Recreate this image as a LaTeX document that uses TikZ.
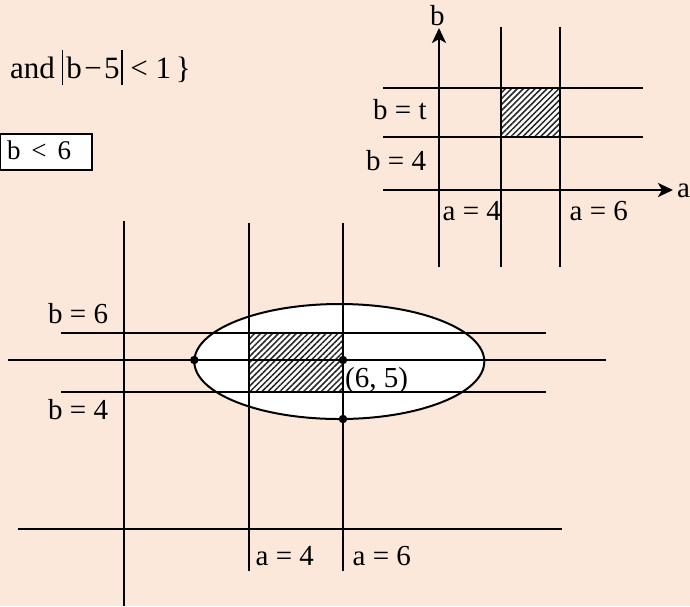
\documentclass[tikz,border=0pt]{standalone}
\usepackage{fontspec}
\setmainfont{Liberation Serif}
\usetikzlibrary{patterns.meta,arrows.meta,shapes.geometric}
\definecolor{bgpeach}{RGB}{252,232,218}
\newcommand{\vbar}{\rule[-0.22em]{1.4pt}{1.12em}}
\tikzset{
  ln/.style={line width=2pt, black},
  ax/.style={line width=2.6pt, black, -{Stealth[length=15pt,width=14pt,inset=4pt]}},
  lbl/.style={anchor=base west, inner sep=0pt, font=\fontsize{29}{31}\selectfont},
  big/.style={anchor=base west, inner sep=0pt, font=\fontsize{31}{34}\selectfont},
  hatch/.style={fill=white, postaction={pattern={Lines[angle=45,distance=4.2pt,line width=1.5pt]}, pattern color=black!85}},
  dot/.style={circle, fill=black, inner sep=0pt, minimum size=8.5pt}
}
\begin{document}
\begin{tikzpicture}[x=1pt,y=-1pt]
\fill[bgpeach] (0,0) rectangle (690,606);
\useasboundingbox (0,0) rectangle (690,606);

% top-left text
\node[big] (cond) at (10,78) {and\hspace{0.22em}\vbar\hspace{0.1em}b\hspace{0.08em}−\hspace{0.08em}5\hspace{0.05em}\vbar\hspace{0.25em}<\hspace{0.25em}1\hspace{0.15em}\}};
\node[draw, line width=2pt, fill=white, minimum width=92pt, minimum height=36pt, inner sep=0pt] (box) at (46,152) {};
\node[lbl, font=\fontsize{27}{30}\selectfont] (bl6) at (7,159) {b\hspace{0.4em}<\hspace{0.4em}6};

% top-right small diagram
\coordinate (bt) at (439,28);   \coordinate (bb) at (439,267);
\coordinate (al) at (383,190);  \coordinate (ar) at (673,190);
\coordinate (v1t) at (501,27); \coordinate (v1b) at (501,267);
\coordinate (v2t) at (560,27);   \coordinate (v2b) at (560,267);
\coordinate (h1l) at (383,88); \coordinate (h1r) at (643,88);
\coordinate (h2l) at (383,137); \coordinate (h2r) at (643,137);
\node[draw=none, hatch, minimum width=59pt, minimum height=49pt, inner sep=0pt] (sq) at (530.5,112.5) {};
\draw[ln] (v1t) -- (v1b);
\draw[ln] (v2t) -- (v2b);
\draw[ln] (h1l) -- (h1r);
\draw[ln] (h2l) -- (h2r);
\draw[line width=2.4pt] (sq.north west) rectangle (sq.south east);
\draw[ax] (bb) -- (bt);
\draw[ax] (al) -- (ar);
\node[lbl] (blab) at (430,25) {b};
\node[lbl] (alab) at (677,197) {a};
\node[lbl] (bt1) at (373,119.5) {b = t};
\node[lbl] (bt2) at (366,170) {b = 4};
\node[lbl] (at4) at (442.5,220) {a = 4};
\node[lbl] (at6) at (569.5,220) {a = 6};

% main diagram
\node[draw, line width=2pt, fill=white, ellipse, minimum width=290pt, minimum height=115pt, inner sep=0pt] (ell) at (339.3,361.5) {};
\node[draw=none, hatch, minimum width=94pt, minimum height=59pt, inner sep=0pt] (rect) at (296,362.5) {};
\coordinate (m1t) at (124,221);   \coordinate (m1b) at (124,606);
\coordinate (m2t) at (249,223); \coordinate (m2b) at (249,571);
\coordinate (m3t) at (343,223);   \coordinate (m3b) at (343,571);
\coordinate (b6l) at (61,333);    \coordinate (b6r) at (546,333);
\coordinate (b5l) at (8,360);   \coordinate (b5r) at (606,360);
\coordinate (b4l) at (61,392);  \coordinate (b4r) at (546,392);
\coordinate (bxl) at (17.5,529); \coordinate (bxr) at (562,529);
\draw[ln] (m1t) -- (m1b);
\draw[ln] (m2t) -- (m2b);
\draw[ln] (m3t) -- (m3b);
\draw[ln] (b6l) -- (b6r);
\draw[ln] (b5l) -- (b5r);
\draw[ln] (b4l) -- (b4r);
\draw[ln] (bxl) -- (bxr);
\node[dot] (d1) at (194.3,360) {};
\node[dot] (d2) at (343,360) {};
\node[dot] (d3) at (343,419) {};
\node[lbl] (lb6) at (48,323.5) {b = 6};
\node[lbl] (lb4) at (48,419.5) {b = 4};
\node[lbl] (l65) at (345,387) {(6, 5)};
\node[lbl] (la4) at (255.5,565.5) {a = 4};
\node[lbl] (la6) at (352.5,565.5) {a = 6};
\end{tikzpicture}
\end{document}
